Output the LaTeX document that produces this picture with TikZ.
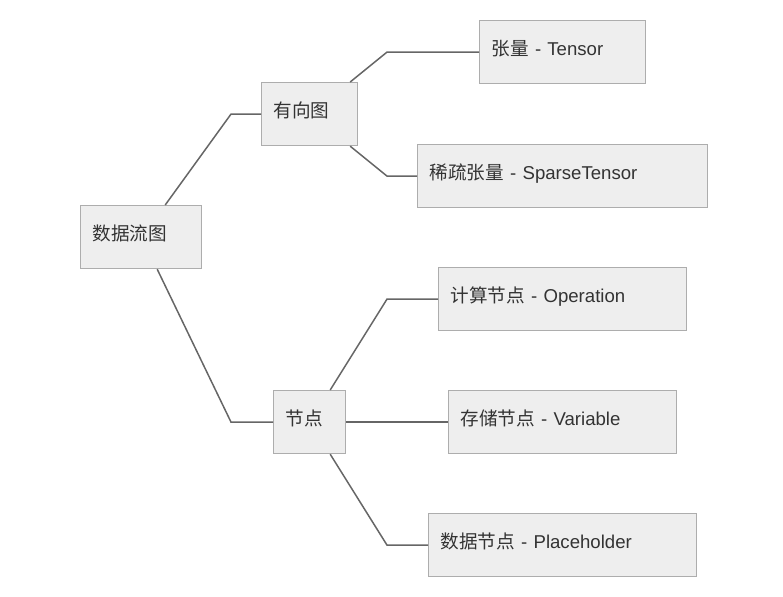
\documentclass[tikz,border=0pt]{standalone}
\usepackage{fontspec}
\setmainfont{Liberation Sans}
\newfontfamily\cjk{Noto Sans CJK SC}
\definecolor{boxfill}{HTML}{EEEEEE}
\definecolor{boxline}{HTML}{ADADAD}
\definecolor{wire}{HTML}{666666}
\definecolor{ink}{HTML}{333333}
\tikzset{
  box/.style={draw=boxline, fill=boxfill, line width=1.2pt, anchor=north west,
    minimum height=63pt, inner xsep=12pt, inner ysep=0pt, align=left,
    text height=13pt, text depth=7pt, text=ink, font=\fontsize{18.6}{20}\selectfont},
  wire/.style={draw=wire, line width=1.5pt}
}
\begin{document}
\begin{tikzpicture}[x=1pt,y=-1pt]
\useasboundingbox (0,0) rectangle (783,596);
%%% root and the two branches
\node[box, text width=97pt] (root) at (80,205) {\cjk 数据流图};
\node[box, text width=72pt] (dag) at (261,82) {\cjk 有向图};
\node[box, text width=48pt] (nodes) at (273,390) {\cjk 节点};
%%% leaves of the directed graph
\node[box, text width=142pt] (tensor) at (479,20) {{\cjk 张量} - Tensor};
\node[box, text width=266pt] (sparse) at (417,144) {{\cjk 稀疏张量} - SparseTensor};
%%% leaves of the node branch
\node[box, text width=224pt] (op) at (438,267) {{\cjk 计算节点} - Operation};
\node[box, text width=204pt] (var) at (448,390) {{\cjk 存储节点} - Variable};
\node[box, text width=244pt] (ph) at (428,513) {{\cjk 数据节点} - Placeholder};
%%% connectors
\draw[wire] ([xshift=-37pt]root.north east) -- ([xshift=-30pt]dag.west) -- (dag.west);
\draw[wire] ([xshift=-45pt]root.south east) -- ([xshift=-42pt]nodes.west) -- (nodes.west);
\draw[wire] ([xshift=-8pt]dag.north east) -- ([xshift=-92pt]tensor.west) -- (tensor.west);
\draw[wire] ([xshift=-8pt]dag.south east) -- ([xshift=-30pt]sparse.west) -- (sparse.west);
\draw[wire] ([xshift=-16pt]nodes.north east) -- ([xshift=-51pt]op.west) -- (op.west);
\draw[wire] (nodes.east) -- (var.west);
\draw[wire] ([xshift=-16pt]nodes.south east) -- ([xshift=-41pt]ph.west) -- (ph.west);
\end{tikzpicture}
\end{document}
